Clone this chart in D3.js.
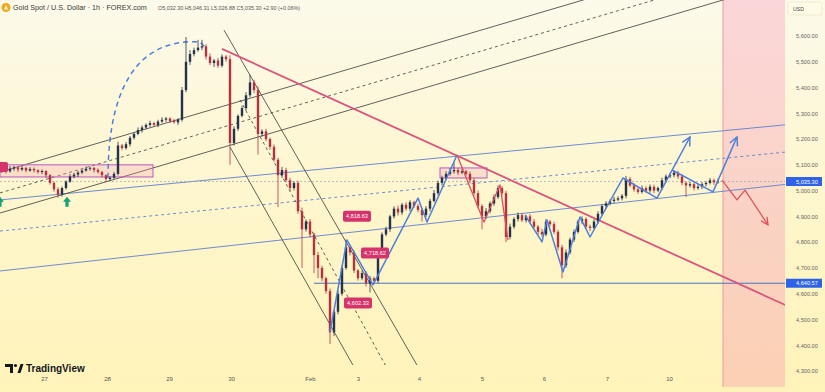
<!DOCTYPE html>
<html>
<head>
<meta charset="utf-8">
<script src="https://cdn.jsdelivr.net/npm/d3@7"></script>
<style>
  html, body { margin: 0; padding: 0; background: #fdf8dc; }
  svg { display: block; font-family: "Liberation Sans", Arial, sans-serif; }
</style>
</head>
<body>
<div id="chart"></div>
<script>
// hourly-ish candles, closes
const closes = [5080,5075,5085,5090,5082,5088,5078,5084,5079,5072,
  5076,5060,5030,5005,4985,5010,5035,5055,5062,5070,
  5078,5085,5088,5080,5072,5060,5045,5050,5065,5175,
  5165,5180,5205,5220,5235,5245,5255,5262,5255,5268,
  5275,5280,5270,5265,5275,5390,5500,5530,5545,5555,
  5560,5520,5495,5505,5485,5520,5510,5185,5240,5290,
  5320,5370,5420,5390,5220,5230,5200,5170,5120,5060,
  5080,5040,5010,5030,4920,4850,4880,4830,4750,4700,
  4660,4610,4450,4530,4600,4700,4780,4760,4690,4660,
  4680,4640,4660,4650,4760,4830,4850,4900,4930,4915,
  4945,4930,4955,4940,4925,4905,4930,4960,4990,5030,
  5050,5065,5075,5080,5070,5075,5065,5040,4990,4940,
  4900,4920,4950,4975,5010,4990,4820,4860,4890,4905,
  4885,4900,4880,4860,4840,4830,4880,4870,4840,4780,
  4710,4760,4810,4840,4880,4890,4860,4855,4880,4910,
  4940,4950,4960,4965,4970,4980,5045,5020,5005,4995,
  5010,5000,5015,5000,5010,5040,5055,5060,5070,5055,
  5030,5020,5025,5010,5015,5025,5030,5040,5032.3,5035.3];

// wick lengths above / below the body
const upWick = [8,5,10,6,4,9,5,7,6,4, 6,3,4,5,8,6,5,9,7,6, 5,8,6,4,7,5,3,6,8,15,
  6,9,7,5,10,8,6,9,5,7, 10,6,4,8,6,12,96,15,10,30, 25,8,12,6,10,9,7,15,10,6,
  9,12,30,10,15,8,10,6,9,7, 12,8,10,6,9,14,8,10,7,12, 9,6,10,8,12,9,30,10,8,6,
  10,7,9,6,12,8,10,6,9,12, 7,10,8,6,9,7,10,8,12,9, 8,10,12,30,8,10,6,9,8,10,
  7,12,8,10,10,8,9,12,7,10, 8,6,9,10,7,12,10,6,9,8, 10,12,8,9,7,10,6,8,9,10,
  7,9,6,10,8,7,12,8,9,6, 10,7,9,8,6,10,8,9,10,7, 8,6,9,7,10,8,6,9,7,11.01];
const downWick = [6,9,5,8,10,6,7,5,9,6, 8,10,7,9,13,8,6,5,7,9, 6,5,8,10,6,9,12,7,5,6,
  8,6,9,7,5,10,6,8,7,9, 6,9,8,5,10,7,8,12,9,6, 10,12,8,15,9,7,10,85,10,8,
  6,9,8,12,80,10,9,12,8,124, 10,8,12,9,10,150,9,12,70,40, 12,10,45,15,10,8,7,12,10,9,
  8,12,35,10,8,9,7,10,8,12, 9,8,10,7,9,25,8,10,6,9, 10,8,7,9,10,6,8,12,10,9,
  50,10,8,9,7,10,20,9,8,10, 7,9,10,8,12,9,7,10,9,12, 50,10,8,9,7,10,8,12,6,9,
  8,10,7,9,6,8,10,7,9,8, 7,9,8,10,6,8,9,7,8,10, 9,45,8,10,7,9,8,6,10,5.42];

const priceTicks = d3.range(4300, 5601, 100);
const dayLabels = ["27", "28", "29", "30", "Feb", "3", "4", "5", "6", "7", "10"];
const dayIndex = [10.5, 26.25, 41.75, 57.25, 77, 89, 104.25, 120, 135.5, 151.25, 166.75];

const lastPrice = 5035.30;
const supportPrice = 4640.57;
const supportFrom = 78;

// drawn objects, as [bar index, price]
const riseChannel = [[[-0.5, 5072], [149.5, 5759]], [[-0.5, 4991], [174.5, 5792]], [[-0.5, 4913], [189.5, 5782]]];
const fallChannel = [[[55.5, 5623], [107.6, 4219]], [[59.5, 5352], [99.5, 4219]], [[57, 5169], [91.5, 4219]]];
const blueChannel = [[[-0.5, 4964], [205.75, 5270]], [[-0.5, 4843], [205.75, 5165]], [[-0.5, 4688], [205.75, 5041]]];
const pinkTrend = [[55, 5550], [205.75, 4486]];
const zones = [[-0.5, 37.75, 5100, 5053], [109.5, 121.25, 5088, 5049]];
const tagText = ["4,818.63", "4,718.62", "4,602.33"];
const tagAt = [[88.75, 4901], [93.25, 4758], [89, 4564]];
const buyArrows = [[-0.5, 4976], [16.25, 4976]];
const arcPts = [[26.5, 5049], [26.5, 5468], [37, 5590], [49.5, 5577], [51, 5553]];
const blueWaves = [
  [[82, 4452], [86.25, 4808], [92.75, 4634], [104, 4971], [106.25, 4878], [113.75, 5138]],
  [[130.75, 4905], [135, 4801], [136.25, 4886], [140.25, 4684], [144.5, 4898], [147, 4820], [155.25, 5049], [163.75, 4971], [172, 5208]],
  [[167.5, 5080], [177.75, 4995], [183.75, 5208]]
];
const redWaves = [
  [[113.75, 5138], [120.5, 4878], [124.5, 5022], [126.5, 4808]],
  [[180, 5041], [183.75, 4964], [185.75, 5002], [191.5, 4867]]
];
const projectionFrom = 180.25;

const W = 825, H = 392, plotR = 785, plotB = 365, zoneB = 387;

const x = d3.scaleLinear().domain([0, 179]).range([2, 718]);
const y = d3.scaleLinear().domain([4300, 5600]).range([371, 36]);

const svg = d3.select("#chart").append("svg").attr("width", W).attr("height", H);
const defs = svg.append("defs");

const bg = defs.append("linearGradient").attr("id", "bg").attr("x1", 0).attr("y1", 0).attr("x2", 0).attr("y2", 1);
bg.append("stop").attr("offset", 0).attr("stop-color", "#fcfaea");
bg.append("stop").attr("offset", 0.5).attr("stop-color", "#fef6cd");
bg.append("stop").attr("offset", 1).attr("stop-color", "#fff3b9");

const pz = defs.append("linearGradient").attr("id", "pz").attr("x1", 0).attr("y1", 0).attr("x2", 0).attr("y2", 1);
pz.append("stop").attr("offset", 0).attr("stop-color", "#fad6d9");
pz.append("stop").attr("offset", 1).attr("stop-color", "#fbd0b4");

defs.append("clipPath").attr("id", "plot").append("rect").attr("width", plotR).attr("height", plotB);

function marker(id, color) {
  defs.append("marker").attr("id", id).attr("viewBox", "0 0 10 10").attr("refX", 9).attr("refY", 5)
    .attr("markerWidth", 7).attr("markerHeight", 7).attr("orient", "auto")
    .append("path").attr("d", "M1,1 L9,5 L1,9").attr("fill", "none").attr("stroke", color).attr("stroke-width", 1.4);
}
marker("ahBlue", "#4f7fdc");
marker("ahRed", "#e0505a");

svg.append("rect").attr("width", W).attr("height", H).attr("fill", "url(#bg)");

// projection zone (reaches into the time axis strip)
svg.append("rect").attr("x", x(projectionFrom)).attr("y", 0)
  .attr("width", plotR - x(projectionFrom)).attr("height", zoneB).attr("fill", "url(#pz)");
svg.append("line").attr("x1", x(projectionFrom)).attr("x2", x(projectionFrom)).attr("y1", 0).attr("y2", zoneB)
  .attr("stroke", "#eb8a8a").attr("stroke-width", 0.8);

const g = svg.append("g").attr("clip-path", "url(#plot)");

const line = d3.line().x(d => x(d[0])).y(d => y(d[1]));

// blue channel
blueChannel.forEach((seg, k) => {
  g.append("path").attr("d", line(seg)).attr("fill", "none")
    .attr("stroke", "#5d7fd0").attr("stroke-width", 0.9)
    .attr("stroke-dasharray", k === 1 ? "3,3" : null);
});

// last price line
g.append("line").attr("x1", 0).attr("x2", plotR).attr("y1", y(lastPrice)).attr("y2", y(lastPrice))
  .attr("stroke", "#9aa3b5").attr("stroke-width", 0.7).attr("stroke-dasharray", "2,2");

// support level
g.append("line").attr("x1", x(supportFrom)).attr("x2", plotR).attr("y1", y(supportPrice)).attr("y2", y(supportPrice))
  .attr("stroke", "#4a72c8").attr("stroke-width", 1);

// black channels
[riseChannel, fallChannel].forEach(ch => ch.forEach((seg, k) => {
  g.append("path").attr("d", line(seg)).attr("fill", "none")
    .attr("stroke", "#3a3a3a").attr("stroke-width", 0.8)
    .attr("stroke-dasharray", k === 1 ? "3,3" : null);
}));

// boxes
zones.forEach(z => {
  g.append("rect").attr("x", x(z[0])).attr("y", y(z[2]))
    .attr("width", x(z[1]) - x(z[0])).attr("height", y(z[3]) - y(z[2]))
    .attr("fill", "rgba(245,160,180,0.28)").attr("stroke", "#b954c8").attr("stroke-width", 1);
});

// pink trend line
g.append("path").attr("d", line(pinkTrend)).attr("fill", "none")
  .attr("stroke", "#d9557c").attr("stroke-width", 1.8);

// dashed arc
const arc = d3.path();
arc.moveTo(x(arcPts[0][0]), y(arcPts[0][1]));
arc.bezierCurveTo(x(arcPts[1][0]), y(arcPts[1][1]), x(arcPts[2][0]), y(arcPts[2][1]), x(arcPts[3][0]), y(arcPts[3][1]));
arc.lineTo(x(arcPts[4][0]), y(arcPts[4][1]));
g.append("path").attr("d", arc.toString()).attr("fill", "none")
  .attr("stroke", "#4f7fdc").attr("stroke-width", 1.5).attr("stroke-dasharray", "5,4");

// candles
const opens = closes.map((c, i) => i === 0 ? c - 5 : closes[i - 1]);
const candles = closes.map((c, i) => {
  const o = opens[i];
  return { i, o, c, h: Math.max(o, c) + upWick[i], l: Math.min(o, c) - downWick[i] };
});
const upCol = "#26324a", dnCol = "#b3323f";
const cg = g.append("g");
cg.selectAll("line").data(candles).enter().append("line")
  .attr("x1", d => x(d.i)).attr("x2", d => x(d.i))
  .attr("y1", d => y(d.h)).attr("y2", d => y(d.l))
  .attr("stroke", d => d.c >= d.o ? upCol : dnCol).attr("stroke-width", 0.8);
cg.selectAll("rect").data(candles).enter().append("rect")
  .attr("x", d => x(d.i) - 1.2).attr("width", 2.4)
  .attr("y", d => y(Math.max(d.o, d.c)))
  .attr("height", d => Math.max(0.8, Math.abs(y(d.o) - y(d.c))))
  .attr("fill", d => d.c >= d.o ? upCol : dnCol);

// projection waves
blueWaves.forEach((w, k) => {
  g.append("path").attr("d", line(w)).attr("fill", "none")
    .attr("stroke", "#4f7fdc").attr("stroke-width", 1.5).attr("stroke-linejoin", "round")
    .attr("marker-end", k > 0 ? "url(#ahBlue)" : null);
});
redWaves.forEach((w, k) => {
  g.append("path").attr("d", line(w)).attr("fill", "none")
    .attr("stroke", "#e0505a").attr("stroke-width", 1.3).attr("stroke-linejoin", "round")
    .attr("marker-end", k > 0 ? "url(#ahRed)" : null);
});

// buy arrows
buyArrows.forEach(a => {
  const ax = x(a[0]), ay = y(a[1]);
  g.append("path")
    .attr("d", `M${ax},${ay} L${ax + 4},${ay + 5} L${ax + 1.6},${ay + 5} L${ax + 1.6},${ay + 10} L${ax - 1.6},${ay + 10} L${ax - 1.6},${ay + 5} L${ax - 4},${ay + 5} Z`)
    .attr("fill", "#13a07a");
});

// price tags
tagText.forEach((t, k) => {
  const tx = x(tagAt[k][0]), ty = y(tagAt[k][1]);
  g.append("rect").attr("x", tx - 14).attr("y", ty - 5.5).attr("width", 28).attr("height", 11)
    .attr("rx", 2).attr("fill", "#d6336c");
  g.append("text").attr("x", tx).attr("y", ty + 2).attr("text-anchor", "middle")
    .attr("font-size", 5.6).attr("fill", "#fff").text(t);
});
// cut-off tag at left edge
g.append("rect").attr("x", -20).attr("y", y(5092) - 5).attr("width", 28).attr("height", 10)
  .attr("rx", 2).attr("fill", "#d6336c");

// right price axis
const yAxis = svg.append("g").attr("transform", `translate(796,0)`)
  .call(d3.axisRight(y).tickValues(priceTicks).tickSize(0).tickPadding(0).tickFormat(d3.format(",.2f")));
yAxis.select(".domain").remove();
yAxis.selectAll("text").attr("font-size", 5.6).attr("fill", "#666").attr("font-family", "Liberation Sans, Arial");

[[lastPrice, "5,035.30"], [supportPrice, "4,640.57"]].forEach(p => {
  svg.append("rect").attr("x", 786).attr("y", y(p[0]) - 4.5).attr("width", 36).attr("height", 9).attr("fill", "#2e63e8");
  svg.append("text").attr("x", 796).attr("y", y(p[0]) + 2).attr("font-size", 5.6).attr("fill", "#fff").text(p[1]);
});

svg.append("rect").attr("x", 788).attr("y", 2).attr("width", 34).attr("height", 13).attr("rx", 2)
  .attr("fill", "#fffbe6").attr("stroke", "#e6e0c0").attr("stroke-width", 0.6);
svg.append("text").attr("x", 793).attr("y", 10.5).attr("font-size", 5.2).attr("fill", "#444").text("USD");

// bottom time axis
const xAxis = svg.append("g").attr("transform", `translate(0,377)`)
  .call(d3.axisBottom(x).tickValues(dayIndex).tickSize(0).tickPadding(0).tickFormat((d, k) => dayLabels[k]));
xAxis.select(".domain").remove();
xAxis.selectAll("text").attr("font-size", 6).attr("fill", "#555").attr("font-family", "Liberation Sans, Arial");

// header
svg.append("circle").attr("cx", 6).attr("cy", 7.5).attr("r", 4.5).attr("fill", "#f0a81c");
svg.append("path").attr("d", "M3.8,9.5 L6,5.2 L8.2,9.5 Z").attr("fill", "#fff3c4");
svg.append("text").attr("x", 13).attr("y", 10).attr("font-size", 7.2).attr("fill", "#3a3a3a")
  .text("Gold Spot / U.S. Dollar · 1h · FOREX.com");
svg.append("text").attr("x", 158).attr("y", 10).attr("font-size", 5.4).attr("fill", "#555")
  .text("O5,032.30  H5,046.31  L5,026.88  C5,035.30  +2.90 (+0.06%)");

// logo
svg.append("path").attr("d", "M5,364 H13 V373 H10 V367 H5 Z").attr("fill", "#131722");
svg.append("circle").attr("cx", 15.5).attr("cy", 365.5).attr("r", 1.6).attr("fill", "#131722");
svg.append("path").attr("d", "M17.5,373 L20.5,364 H23.5 L20.5,373 Z").attr("fill", "#131722");
svg.append("text").attr("x", 26).attr("y", 372).attr("font-size", 10).attr("font-weight", "bold")
  .attr("fill", "#131722").text("TradingView");
</script>
</body>
</html>
